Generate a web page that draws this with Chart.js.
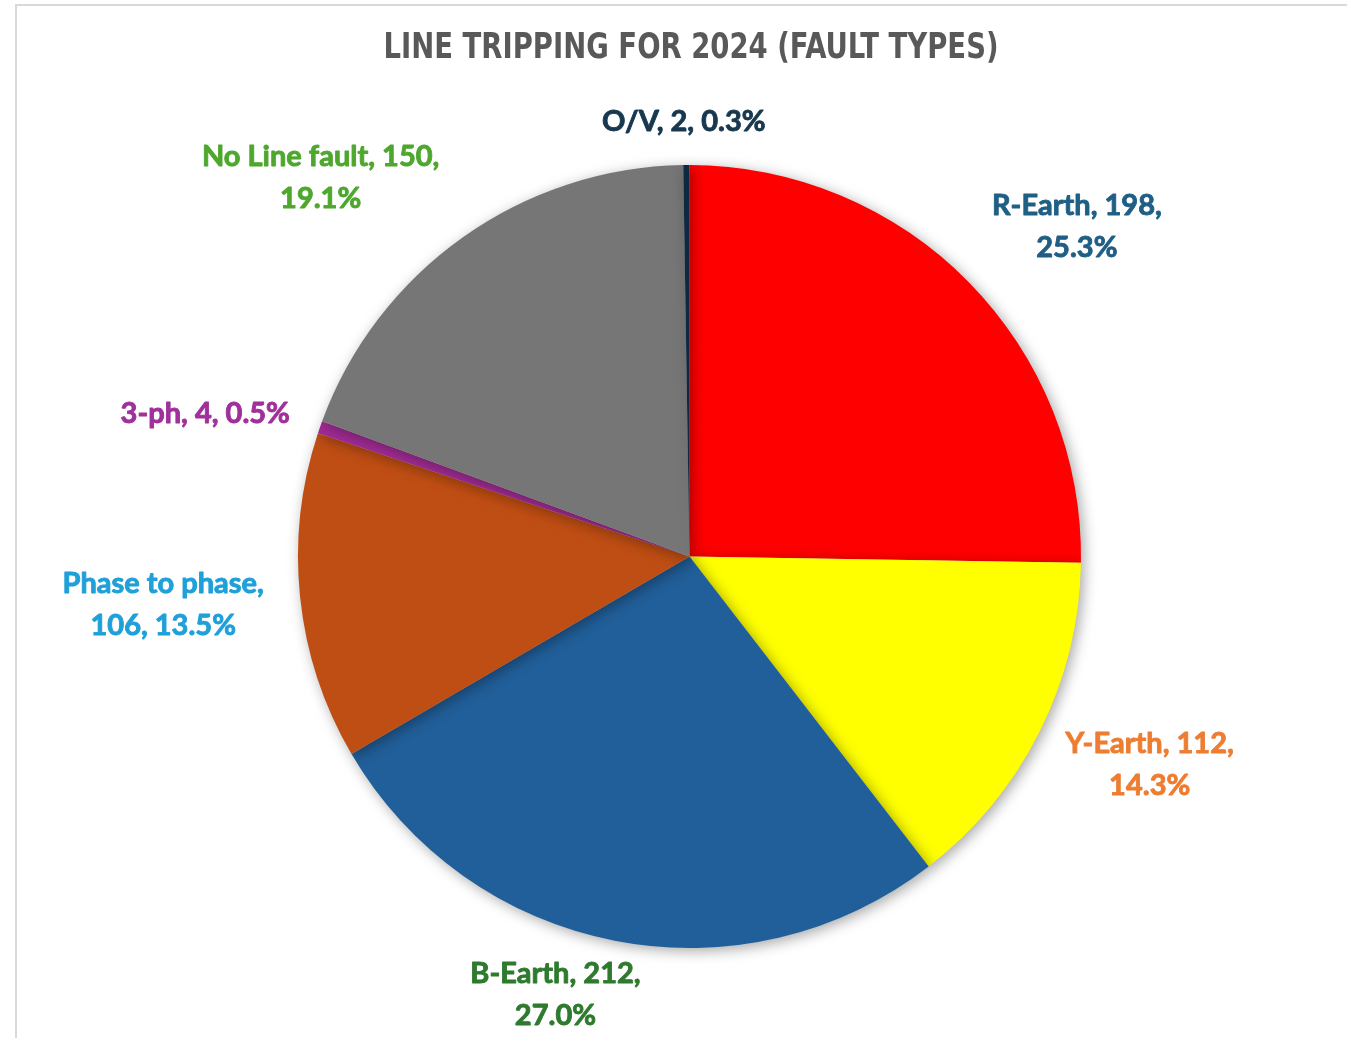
<!DOCTYPE html>
<html>
<head>
<meta charset="utf-8">
<script src="https://cdn.jsdelivr.net/npm/chart.js@4.4.1/dist/chart.umd.min.js"></script>
<style>
  html, body { margin: 0; padding: 0; background: #ffffff; }
  #c { display: block; }
</style>
</head>
<body>
<canvas id="c" width="1347" height="1038"></canvas>
<script>
// ---- data ----
const chartTitle = 'LINE TRIPPING FOR 2024 (FAULT TYPES)';
const categories = ['R-Earth', 'Y-Earth', 'B-Earth', 'Phase to phase', '3-ph', 'No Line fault', 'O/V'];
const counts = [198, 112, 212, 106, 4, 150, 2];
const percentLabels = ['25.3%', '14.3%', '27.0%', '13.5%', '0.5%', '19.1%', '0.3%'];

// ---- styles ----
const sliceColors = ['#FF0000', '#FFFF00', '#215F9A', '#BF4E14', '#A02B93', '#767676', '#0E2841'];
const labelColors = ['#1F5F85', '#ED7D31', '#2E7A2E', '#1FA0D8', '#A0309A', '#4EA72E', '#17384F'];
const labelLines = [
  ['R-Earth, 198,', '25.3%'],
  ['Y-Earth, 112,', '14.3%'],
  ['B-Earth, 212,', '27.0%'],
  ['Phase to phase,', '106, 13.5%'],
  ['3-ph, 4, 0.5%'],
  ['No Line fault, 150,', '19.1%'],
  ['O/V, 2, 0.3%']
];
// label placement relative to slice: [distance factor of radius, angle nudge in degrees]
const labelPlacement = [
  [1.30, 4.1], [1.29, -2.3], [1.17, 6.0], [1.35, 0.7], [1.29, -2.8], [1.35, -8.9], [1.11, -0.3]
];

const frameAndTitle = {
  id: 'frameAndTitle',
  beforeDraw(chart) {
    const ctx = chart.ctx;
    ctx.save();
    ctx.fillStyle = '#ffffff';
    ctx.fillRect(0, 0, chart.width, chart.height);
    ctx.strokeStyle = '#D9D9D9';
    ctx.lineWidth = 2;
    ctx.beginPath();
    ctx.moveTo(16, chart.height + 5);
    ctx.lineTo(16, 5);
    ctx.lineTo(chart.width + 5, 5);
    ctx.stroke();
    ctx.fillStyle = '#595959';
    ctx.font = 'bold 35px "Liberation Sans Narrow", "DejaVu Sans Condensed", "Roboto", sans-serif';
    ctx.textAlign = 'center';
    ctx.textBaseline = 'middle';
    const w = ctx.measureText(chartTitle).width;
    const sx = 615 / w;
    ctx.translate(691, 49);
    ctx.scale(sx, 1);
    ctx.fillText(chartTitle, 0, 0);
    ctx.restore();
  },
  beforeDatasetsDraw(chart) {
    const ctx = chart.ctx;
    ctx.save();
    ctx.shadowColor = 'rgba(0,0,0,0.35)';
    ctx.shadowBlur = 14;
    ctx.shadowOffsetX = 3;
    ctx.shadowOffsetY = 3;
  },
  afterDatasetsDraw(chart) {
    chart.ctx.restore();
    const ctx = chart.ctx;
    const meta = chart.getDatasetMeta(0);
    ctx.save();
    ctx.font = 'bold 29px "Lato", "Open Sans", sans-serif';
    ctx.textAlign = 'center';
    ctx.textBaseline = 'middle';
    ctx.lineWidth = 0.9;
    ctx.lineJoin = 'round';
    meta.data.forEach((arc, i) => {
      const mid = (arc.startAngle + arc.endAngle) / 2 + labelPlacement[i][1] * Math.PI / 180;
      const d = arc.outerRadius * labelPlacement[i][0];
      const cx = arc.x + Math.cos(mid) * d;
      const cy = arc.y + Math.sin(mid) * d;
      const lines = labelLines[i];
      const lh = 42;
      const y0 = cy - (lines.length - 1) * lh / 2;
      ctx.fillStyle = labelColors[i];
      ctx.strokeStyle = labelColors[i];
      lines.forEach((t, k) => {
        ctx.fillText(t, cx, y0 + k * lh);
        ctx.strokeText(t, cx, y0 + k * lh);
      });
    });
    ctx.restore();
  }
};

new Chart(document.getElementById('c'), {
  type: 'pie',
  data: {
    labels: categories,
    datasets: [{
      data: counts,
      backgroundColor: sliceColors,
      borderWidth: 0
    }]
  },
  options: {
    responsive: false,
    animation: false,
    layout: { padding: { left: 298, right: 266, top: 165, bottom: 90 } },
    plugins: {
      legend: { display: false },
      title: { display: false },
      tooltip: { enabled: false }
    }
  },
  plugins: [frameAndTitle]
});
</script>
</body>
</html>
